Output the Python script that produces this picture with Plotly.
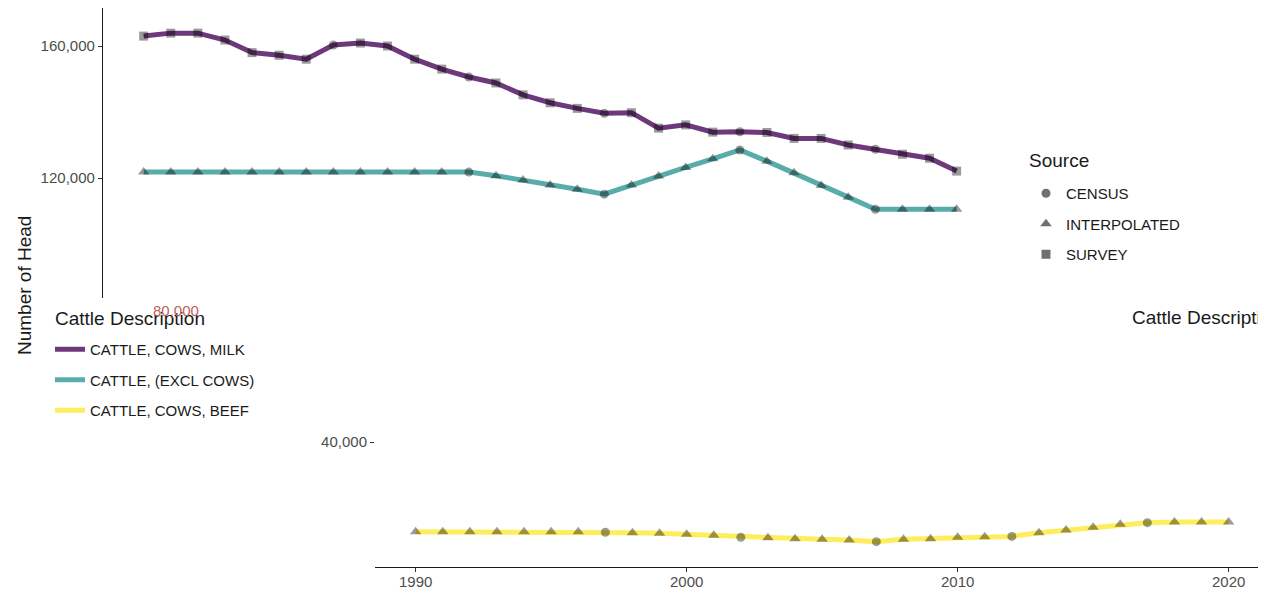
import plotly.graph_objects as go

# ---------------- data ----------------
years = list(range(1990, 2021))

milk_values = [163000, 163900, 163900, 161800, 158000, 157200, 156000, 160300, 160900, 160000,
               156000, 153000, 150600, 148800, 145200, 142800, 141100, 139600, 139800, 135100,
               136100, 133900, 134000, 133800, 132000, 132000, 130000, 128700, 127200, 126000,
               122100]
# S = SURVEY, C = CENSUS, I = INTERPOLATED   (1990 ... 2020)
milk_source = ["S", "S", "S", "S", "S", "S", "S", "C", "S", "S",
               "S", "S", "C", "S", "S", "S", "S", "C", "S", "S",
               "S", "S", "C", "S", "S", "S", "S", "C", "S", "S",
               "S"]

excl_values = [121800, 121800, 121800, 121800, 121800, 121800, 121800, 121800, 121800, 121800,
               121800, 121800, 121800, 120700, 119400, 117900, 116600, 115100, 117900, 120600,
               123200, 125800, 128500, 125100, 121600, 117700, 114200, 110500, 110500, 110500,
               110500]
excl_source = ["I", "I", "I", "I", "I", "I", "I", "I", "I", "I",
               "I", "I", "C", "I", "I", "I", "I", "C", "I", "I",
               "I", "I", "C", "I", "I", "I", "I", "C", "I", "I",
               "I"]

beef_values = [12800, 12800, 12800, 12800, 12800, 12800, 12800, 12640, 12520, 12320,
               12020, 11720, 11110, 11010, 10700, 10500, 10300, 9800, 10500, 10700,
               11100, 11300, 11400, 12520, 13330, 14140, 15050, 15560, 15760, 15760,
               15760]
beef_source = ["I", "I", "I", "I", "I", "I", "I", "C", "I", "I",
               "I", "I", "C", "I", "I", "I", "I", "C", "I", "I",
               "I", "I", "C", "I", "I", "I", "I", "C", "I", "I",
               "I"]

series_names = ["CATTLE, COWS, MILK", "CATTLE, (EXCL COWS)", "CATTLE, COWS, BEEF"]
series_values = [milk_values, excl_values, beef_values]
series_sources = [milk_source, excl_source, beef_source]
series_colors = ["rgba(68,1,84,0.78)", "rgba(33,144,140,0.75)", "rgba(253,231,37,0.75)"]

source_codes = ["C", "I", "S"]
source_labels = {"C": "CENSUS", "I": "INTERPOLATED", "S": "SURVEY"}
source_symbols = {"C": "circle", "I": "triangle-up", "S": "square"}
source_sizes = {"C": 9, "I": 10, "S": 9}

y_ticks_top = [120000, 160000]
y_ticks_bottom = [40000]
x_ticks = [1990, 2000, 2010, 2020]

# ---------------- geometry ----------------
OFF = 8                      # page body margin
W, H = 1266 - 2 * OFF, 598 - 2 * OFF
px_per_year = 27.1
px_per_unit = 132 / 40000.0
zero_px = 574                # reference pixel row of value 0


def val_at(p):
    return (zero_px - p) / px_per_unit


def P(p):
    return p - OFF


FONT = "Liberation Sans, Arial, sans-serif"
TICKC = "#4d4d4d"
TXT = "#1a1a1a"
MARK = "rgba(0,0,0,0.56)"
TICK_FS, LEG_FS, TITLE_FS = 15, 15, 19

fig = go.Figure()

for axes in (("x", "y"), ("x2", "y2")):
    for name, vals, srcs, col in zip(series_names, series_values, series_sources, series_colors):
        fig.add_trace(go.Scatter(x=years, y=vals, mode="lines", xaxis=axes[0], yaxis=axes[1],
                                 line=dict(color=col, width=5), showlegend=False, hoverinfo="skip"))
        fig.add_trace(go.Scatter(x=years, y=vals, mode="markers", xaxis=axes[0], yaxis=axes[1],
                                 marker=dict(color=MARK, line=dict(width=0),
                                             size=[source_sizes[s] for s in srcs],
                                             symbol=[source_symbols[s] for s in srcs]),
                                 showlegend=False, name=name))

# legend: Source
for s in source_codes:
    fig.add_trace(go.Scatter(x=[None], y=[None], mode="markers", name=source_labels[s],
                             legend="legend", legendgroup=s,
                             marker=dict(color=MARK, line=dict(width=0),
                                         size=source_sizes[s], symbol=source_symbols[s])))
# legend: Cattle Description
for name, col in zip(series_names, series_colors):
    fig.add_trace(go.Scatter(x=[None], y=[None], mode="lines", name=name, legend="legend2",
                             legendgroup=name, line=dict(color=col, width=5)))

# reference pixel boxes
top_x0, top_x1 = 103, 999
bot_x0 = 375
top_y0, top_y1 = 8, 298
bot_y0, bot_y1 = 330, 567

fig.update_layout(
    template="none",
    width=W, height=H,
    margin=dict(l=0, r=0, t=0, b=0),
    paper_bgcolor="white", plot_bgcolor="white",
    font=dict(family=FONT, color=TXT),
    showlegend=True,
    xaxis=dict(domain=[P(top_x0) / W, P(top_x1) / W], anchor="y",
               range=[1988.5, 1988.5 + (top_x1 - top_x0) / px_per_year],
               visible=False, fixedrange=True),
    yaxis=dict(domain=[1 - P(top_y1) / H, 1 - P(top_y0) / H], anchor="x",
               range=[val_at(top_y1), val_at(top_y0)],
               showgrid=False, zeroline=False, showline=True, linecolor=TXT, linewidth=1.3,
               ticks="outside", ticklen=4, tickcolor="#333333", tickwidth=1.1,
               tickvals=y_ticks_top, ticktext=[f"{v:,}" for v in y_ticks_top],
               tickfont=dict(size=TICK_FS, color=TICKC, family=FONT)),
    xaxis2=dict(domain=[P(bot_x0) / W, 1], anchor="y2",
                range=[1988.5, 1988.5 + (W - P(bot_x0)) / px_per_year],
                showgrid=False, zeroline=False, showline=True, linecolor=TXT, linewidth=1.3,
                ticks="outside", ticklen=4, tickcolor="#333333", tickwidth=1.1,
                ticklabelstandoff=-3,
                tickvals=x_ticks, ticktext=[str(v) for v in x_ticks],
                tickfont=dict(size=TICK_FS, color=TICKC, family=FONT)),
    yaxis2=dict(domain=[1 - P(bot_y1) / H, 1 - P(bot_y0) / H], anchor="x2",
                range=[val_at(bot_y1), val_at(bot_y0)],
                showgrid=False, zeroline=False, showline=False,
                ticks="outside", ticklen=4, tickcolor="#333333", tickwidth=1.1,
                tickvals=y_ticks_bottom, ticktext=[f"{v:,}" for v in y_ticks_bottom],
                tickfont=dict(size=TICK_FS, color=TICKC, family=FONT)),
    legend=dict(x=P(1026) / W, y=1 - P(177) / H, xanchor="left", yanchor="top",
                font=dict(size=LEG_FS, color=TXT), tracegroupgap=8,
                bgcolor="rgba(0,0,0,0)"),
    legend2=dict(x=P(50) / W, y=1 - P(333) / H, xanchor="left", yanchor="top",
                 font=dict(size=LEG_FS, color=TXT), tracegroupgap=8,
                 bgcolor="rgba(0,0,0,0)"),
    annotations=[
        dict(text="Source", x=P(1027) / W, y=1 - P(161) / H, xref="paper", yref="paper",
             xanchor="left", yanchor="middle", showarrow=False,
             font=dict(size=TITLE_FS, color=TXT)),
        dict(text="Cattle Description", x=P(53) / W, y=1 - P(318) / H, xref="paper", yref="paper",
             xanchor="left", yanchor="middle", showarrow=False,
             font=dict(size=TITLE_FS, color=TXT)),
        dict(text="Number of Head", textangle=-90, x=P(24) / W, y=1 - P(286) / H,
             xref="paper", yref="paper", xanchor="center", yanchor="middle",
             showarrow=False, font=dict(size=TITLE_FS, color=TXT)),
        dict(text="80,000", x=P(176) / W, y=1 - P(310) / H, xref="paper", yref="paper",
             xanchor="center", yanchor="middle",
             showarrow=False, font=dict(size=TICK_FS, color="#c06060")),
        dict(text="Cattle Description", x=P(1130) / W, y=1 - P(317) / H, xref="paper", yref="paper",
             xanchor="left", yanchor="middle", showarrow=False,
             font=dict(size=TITLE_FS, color=TXT)),
    ],
)

fig.write_html("out.html")
